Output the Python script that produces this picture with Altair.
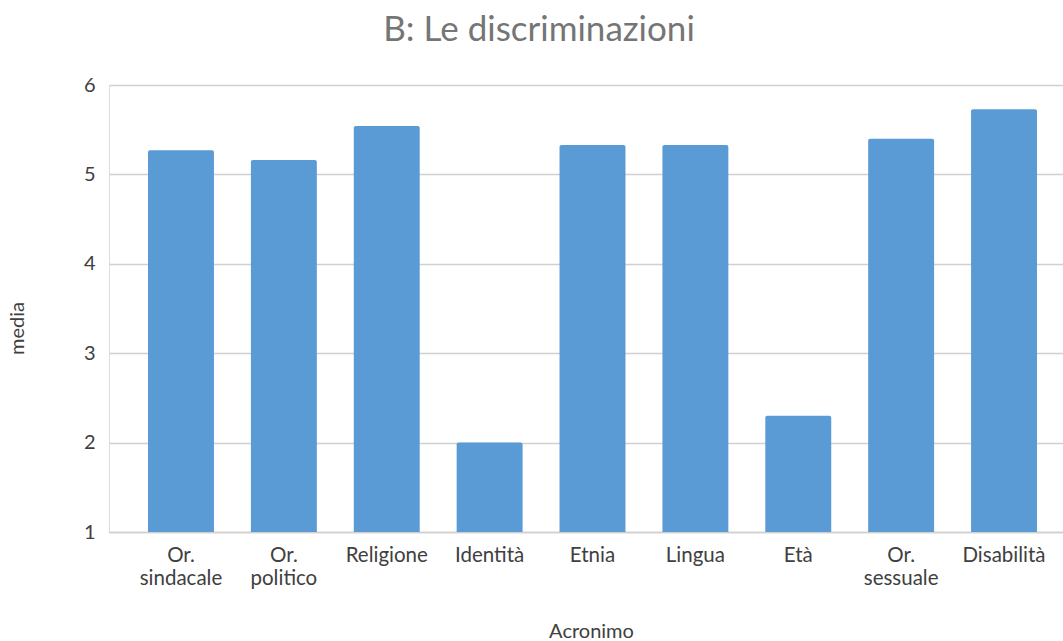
import altair as alt
import pandas as pd

# Mean score per discrimination category
categories = [
    "Or.\nsindacale",
    "Or.\npolitico",
    "Religione",
    "Identità",
    "Etnia",
    "Lingua",
    "Età",
    "Or.\nsessuale",
    "Disabilità",
]
media = [5.27, 5.16, 5.54, 2.00, 5.33, 5.33, 2.30, 5.40, 5.73]

df = pd.DataFrame({"Acronimo": categories, "media": media})

FONT = "Lato"
TEXT = "#404040"

chart = (
    alt.Chart(df)
    .mark_bar(color="#5B9BD5", cornerRadiusTopLeft=2, cornerRadiusTopRight=2)
    .encode(
        x=alt.X(
            "Acronimo:N",
            sort=categories,
            scale=alt.Scale(paddingInner=0.359, paddingOuter=0.316, align=0.6),
            axis=alt.Axis(
                title="Acronimo",
                labelAngle=0,
                labelExpr="split(datum.label, '\\n')",
                labelFont=FONT,
                labelFontSize=20.5,
                labelColor=TEXT,
                labelPadding=13,
                labelLineHeight=23.5,
                labelOverlap=False,
                ticks=False,
                domainColor="#d0d0d0",
                domainWidth=1.5,
                titleFont=FONT,
                titleFontSize=20,
                titleFontWeight="normal",
                titleColor=TEXT,
                titleX=482,
                titleY=105,
                titleBaseline="alphabetic",
            ),
        ),
        y=alt.Y(
            "media:Q",
            scale=alt.Scale(domain=[1, 6], nice=False, zero=False),
            axis=alt.Axis(
                title="media",
                values=[1, 2, 3, 4, 5, 6],
                labelFont=FONT,
                labelFontSize=20,
                labelColor=TEXT,
                labelPadding=14,
                ticks=False,
                domain=False,
                gridColor="#d0d0d0",
                gridWidth=1.5,
                titleFont=FONT,
                titleFontSize=20,
                titleFontWeight="normal",
                titleColor=TEXT,
                titleAngle=-90,
                titleX=-92,
                titleY=243,
                titleBaseline="middle",
            ),
        ),
        y2=alt.datum(1),
    )
    .properties(
        width=954,
        height=447,
        title=alt.TitleParams(
            "B: Le discriminazioni",
            font=FONT,
            fontSize=35,
            fontWeight="normal",
            color="#757575",
            anchor="middle",
            dx=-47,
            offset=27,
        ),
        autosize=alt.AutoSizeParams(type="none"),
        padding={"left": 109, "top": 85, "right": 0, "bottom": 109},
    )
    .configure_view(stroke=None)
    .configure(background="white")
)

chart.save("out.html", embed_options={"renderer": "svg", "actions": False})
